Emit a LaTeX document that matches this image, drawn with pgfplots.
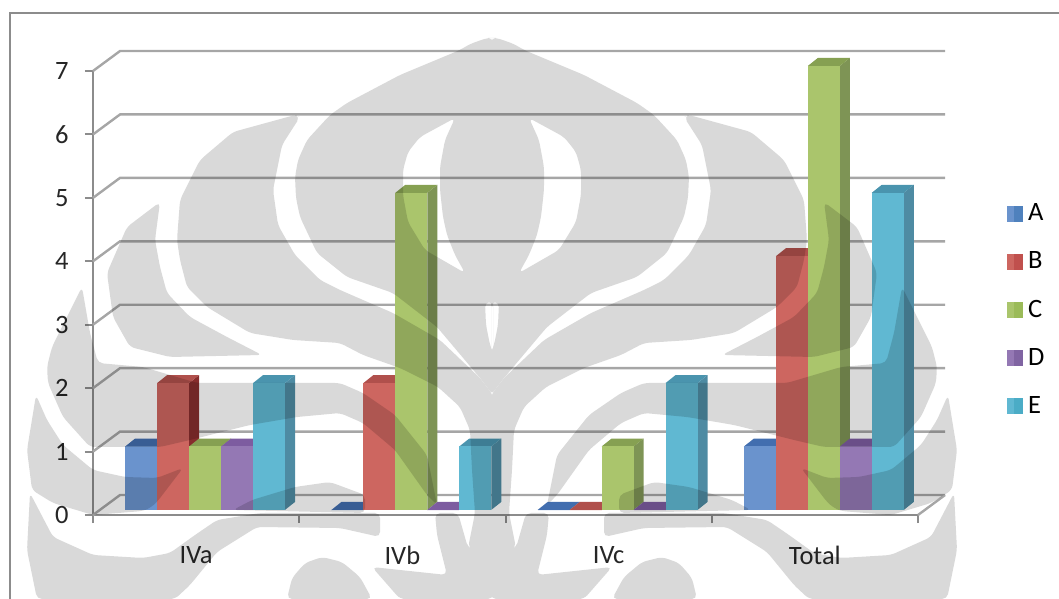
\documentclass[border=0pt]{standalone}
\usepackage{pgfplots}
\pgfplotsset{compat=1.18}
\usepackage{fontspec}
\setmainfont{Carlito}
\definecolor{gridc}{RGB}{166,166,166}
\definecolor{axisc}{RGB}{140,140,140}
\definecolor{Af}{RGB}{106,147,205}\definecolor{As}{RGB}{70,110,165}\definecolor{At}{RGB}{66,110,175}\definecolor{Ad}{RGB}{79,129,189}
\definecolor{Bf}{RGB}{205,102,96}\definecolor{Bs}{RGB}{135,45,45}\definecolor{Bt}{RGB}{176,80,76}\definecolor{Bd}{RGB}{192,80,77}
\definecolor{Cf}{RGB}{170,197,108}\definecolor{Cs}{RGB}{126,148,85}\definecolor{Ct}{RGB}{134,160,82}\definecolor{Cd}{RGB}{155,187,89}
\definecolor{Df}{RGB}{148,120,180}\definecolor{Ds}{RGB}{100,75,130}\definecolor{Dt}{RGB}{125,92,160}\definecolor{Dd}{RGB}{128,100,162}
\definecolor{Ef}{RGB}{96,184,210}\definecolor{Es}{RGB}{78,139,163}\definecolor{Et}{RGB}{74,148,174}\definecolor{Ed}{RGB}{75,172,198}
\newcommand{\chartfont}{\fontsize{26.5}{28}\selectfont}
% one box of the 3D column chart: left edge, value, series colour prefix
\newcommand{\columnbox}[3]{%
  \pgfmathsetmacro{\xa}{#1}\pgfmathsetmacro{\xb}{#1+0.155}%
  \pgfmathsetmacro{\xc}{#1+0.155+0.0485}\pgfmathsetmacro{\xd}{#1+0.0485}%
  \pgfmathsetmacro{\ya}{0.08}\pgfmathsetmacro{\yb}{#2+0.08}%
  \pgfmathsetmacro{\yc}{0.08+0.126}\pgfmathsetmacro{\yd}{#2+0.08+0.126}%
  \addplot[fill=#3s,draw=none,forget plot] coordinates {(\xb,\ya)(\xc,\yc)(\xc,\yd)(\xb,\yb)};
  \addplot[fill=#3t,draw=none,forget plot] coordinates {(\xa,\yb)(\xb,\yb)(\xc,\yd)(\xd,\yd)};
  \addplot[fill=#3f,draw=none,forget plot] coordinates {(\xa,\ya)(\xb,\ya)(\xb,\yb)(\xa,\yb)};
}
% a category: position, then the values of series A to E
\newcommand{\category}[6]{%
  \pgfmathsetmacro{\gx}{#1-0.344}\columnbox{\gx}{#2}{A}%
  \pgfmathsetmacro{\gx}{#1-0.189}\columnbox{\gx}{#3}{B}%
  \pgfmathsetmacro{\gx}{#1-0.034}\columnbox{\gx}{#4}{C}%
  \pgfmathsetmacro{\gx}{#1+0.121}\columnbox{\gx}{#5}{D}%
  \pgfmathsetmacro{\gx}{#1+0.276}\columnbox{\gx}{#6}{E}%
}
\newcommand{\wall}[1]{%
  \pgfmathsetmacro{\yw}{#1+0.315}%
  \addplot[gridc,line width=2.4pt,forget plot] coordinates {(-0.5,#1)(-0.369,\yw)(3.631,\yw)};
}
\newcommand{\swatch}[2]{\addlegendimage{legend image code/.code={%
  \fill[#1] (0pt,-7.5pt) rectangle (7.5pt,7.5pt);
  \fill[#2] (7.5pt,-7.5pt) rectangle (15pt,7.5pt);}}}
% left half of the seal printed across the page
\newcommand{\sealhalf}{%
  \fill[even odd rule]
    (493,38)--(487,38)--(470,44)--(460,50)--(400,75)--(347,103)--(330,115)--(307,140)--(298,160)--(295,177)--(296,198)--(300,217)--(317,253)--(347,277)--(393,293)--(437,327)--(480,378)--(493,395)--cycle
    (455,118)--(420,137)--(408,152)--(403,170)--(403,195)--(408,222)--(425,250)--(465,273)--(455,255)--(447,235)--(443,217)--(440,190)--(440,167)--(445,140)--cycle
    (493,302)--(485,302)--(486,325)--(490,345)--(493,353)--cycle;
  \fill (295,115)--(233,132)--(200,160)--(180,200)--(177,240)--(180,260)--(187,287)--(207,307)--(250,333)--(293,340)--(340,343)--(363,355)--(400,368)--(438,387)--(460,407)--(470,430)--(472,470)--(475,513)--(468,548)--(493,560)--(493,395)--(480,378)--(440,340)--(393,313)--(340,290)--(320,280)--(295,255)--(278,225)--(273,190)--(282,145)--(300,117)--cycle;
  \fill (160,202)--(127,227)--(107,273)--(113,317)--(130,347)--(170,357)--(262,355)--(227,337)--(190,317)--(167,293)--(160,267)--(155,240)--cycle;
  \fill (82,287)--(52,347)--(47,367)--(48,383)--(63,417)--(90,447)--(125,447)--(160,447)--(190,440)--(250,425)--(297,417)--(340,413)--(363,423)--(395,450)--(427,495)--(437,505)--(427,455)--(395,415)--(363,393)--(340,383)--(197,383)--(143,367)--(98,363)--(90,333)--cycle;
  \fill (36,395)--(27,450)--(32,490)--(53,503)--(93,515)--(143,511)--(150,508)--(157,502)--(183,468)--(157,478)--(125,477)--(93,470)--(63,445)--(47,420)--cycle;
  \fill (30,493)--(53,537)--(93,555)--(143,558)--(170,553)--(195,535)--(217,520)--(260,513)--(380,513)--(380,537)--(340,528)--(257,527)--(217,552)--(190,585)--(175,599)--(37,599)--(27,550)--cycle;
  \fill (233,510)--(252,500)--(295,487)--(330,482)--(365,495)--(365,513)--cycle;
  \fill (287,599)--(292,578)--(305,563)--(322,557)--(342,562)--(360,577)--(372,599)--cycle;
  \fill (372,567)--(400,570)--(447,575)--(437,535)--(435,513)--(458,513)--(468,548)--(493,555)--(493,599)--(400,599)--cycle;
}
\begin{document}
\begin{tikzpicture}[x=1pt,y=1pt]
\path[use as bounding box] (0,0) rectangle (1059,599);
\draw[axisc,line width=1.8pt] (10,0)--(10,586)--(1059,586);
\begin{axis}[
  at={(93pt,84pt)},anchor=south west,scale only axis,width=825pt,height=444pt,
  xmin=-0.5,xmax=3.5,ymin=0,ymax=7,clip=false,
  axis x line*=bottom,axis y line*=left,
  x axis line style={-,axisc,line width=2.2pt},
  y axis line style={-,axisc,line width=2.2pt},
  xtick={-0.5,0.5,1.5,2.5,3.5},xticklabels={},
  extra x ticks={0,1,2,3},extra x tick labels={IVa,IVb,IVc,Total},
  extra x tick style={major tick length=0pt,tick label style={yshift=-28pt}},
  ytick={0,...,7},
  major tick length=8pt,
  tick align=outside,
  tick style={axisc,line width=2pt},
  y tick label style={xshift=-13pt,font=\chartfont,text=black!85},
  x tick label style={font=\chartfont,text=black!85},
  /pgf/number format/assume math mode=true,
  legend style={at={(1.1075,0.705)},anchor=north west,draw=none,fill=none,
    inner sep=0pt,outer sep=0pt,font=\chartfont,row sep=25.5pt},
  legend cell align=left,
  ]
  \pgfplotsinvokeforeach{0,...,7}{\wall{#1}}
  \addplot[gridc,line width=2.4pt,forget plot] coordinates {(3.5,0)(3.631,0.315)};
  \category{0}{1}{2}{1}{1}{2}
  \category{1}{0}{2}{5}{0}{1}
  \category{2}{0}{0}{1}{0}{2}
  \category{3}{1}{4}{7}{1}{5}
  \swatch{Af}{Ad}\addlegendentry{\hspace*{4pt}A}
  \swatch{Bf}{Bd}\addlegendentry{\hspace*{4pt}B}
  \swatch{Cf}{Cd}\addlegendentry{\hspace*{4pt}C}
  \swatch{Df}{Dd}\addlegendentry{\hspace*{4pt}D}
  \swatch{Ef}{Ed}\addlegendentry{\hspace*{4pt}E}
\end{axis}
\begin{scope}[transparency group,opacity=0.15,shift={(0,599)},y=-1pt,x=1pt,rounded corners=5pt]
  \sealhalf
  \begin{scope}[shift={(984,0)},x=-1pt]
    \sealhalf
  \end{scope}
\end{scope}
\end{tikzpicture}
\end{document}
